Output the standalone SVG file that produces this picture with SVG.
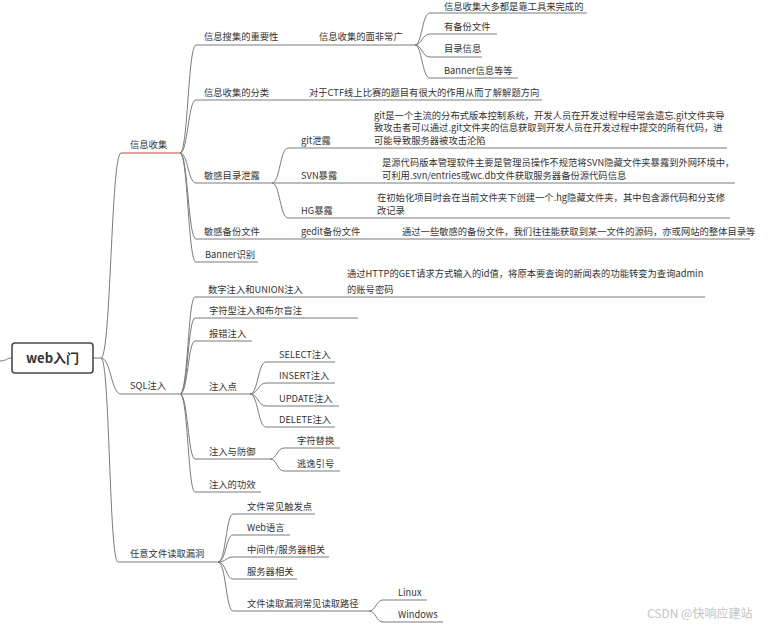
<svg xmlns="http://www.w3.org/2000/svg" width="781" height="629" viewBox="0 0 781 629">
<style>
  text { font-family: "Noto Sans CJK SC", "Noto Sans", sans-serif; font-size: 9.3px; fill: #333; }
  .ul { stroke: #7a7a7a; stroke-width: 1; fill: none; }
  .cn { stroke: #7a7a7a; stroke-width: 1; fill: none; }
  .red { stroke: #d9402e; stroke-width: 1.2; }
  .root { fill: #ffffff; stroke: #4a4a4a; stroke-width: 1.6; }
  .rt { font-size: 13px; font-weight: bold; fill: #333; }
  .wm { font-size: 12px; fill: #c4c4c4; }
</style>
<rect width="781" height="629" fill="#ffffff"/>

<g id="connectors">
  <path class="cn" d="M0,361 C6,361 7,358 12,358" stroke-width="1.5"/>
  <path class="cn" d="M93,358 L101,358"/>
  <path class="cn" d="M101,358 C111,358 111,153 121,153"/>
  <path class="cn" d="M101,358 C111,358 111,394 121,394"/>
  <path class="cn" d="M101,358 C110,358 109,562 118,562"/>
  <!-- 信息收集 children -->
  <path class="cn" d="M180,153 C188,153 188,45 196,45"/>
  <path class="cn" d="M180,153 C188,153 188,100 196,100"/>
  <path class="cn" d="M180,153 C188,153 188,183 196,183"/>
  <path class="cn" d="M180,153 C188,153 188,239 196,239"/>
  <path class="cn" d="M180,153 C188,153 188,262 196,262"/>
  <!-- 信息收集的面非常广 children -->
  <path class="cn" d="M415,45 C422,45 422,13 430,13"/>
  <path class="cn" d="M415,45 C422,45 422,34 430,34"/>
  <path class="cn" d="M415,45 C422,45 422,57 430,57"/>
  <path class="cn" d="M415,45 C422,45 422,78 430,78"/>
  <!-- 敏感目录泄露 children -->
  <path class="cn" d="M272,183 C280,183 280,148 288,148"/>
  <path class="cn" d="M272,183 L288,183"/>
  <path class="cn" d="M272,183 C280,183 280,218 288,218"/>
  <!-- SQL注入 children -->
  <path class="cn" d="M180,394 C188,394 188,297 195,297"/>
  <path class="cn" d="M180,394 C188,394 188,318 195,318"/>
  <path class="cn" d="M180,394 C188,394 188,341 195,341"/>
  <path class="cn" d="M180,394 L195,394"/>
  <path class="cn" d="M180,394 C188,394 188,459 195,459"/>
  <path class="cn" d="M180,394 C188,394 188,492 195,492"/>
  <!-- 注入点 children -->
  <path class="cn" d="M250,394 C258,394 258,362 266,362"/>
  <path class="cn" d="M250,394 C258,394 258,383 266,383"/>
  <path class="cn" d="M250,394 C258,394 258,406 266,406"/>
  <path class="cn" d="M250,394 C258,394 258,427 266,427"/>
  <!-- 注入与防御 children -->
  <path class="cn" d="M270,459 C277,459 277,448 284,448"/>
  <path class="cn" d="M270,459 C277,459 277,471 284,471"/>
  <!-- 任意文件读取漏洞 children -->
  <path class="cn" d="M218,562 C226,562 226,514 233,514"/>
  <path class="cn" d="M218,562 C226,562 226,535 233,535"/>
  <path class="cn" d="M218,562 C226,562 226,557 233,557"/>
  <path class="cn" d="M218,562 C226,562 226,579 233,579"/>
  <path class="cn" d="M218,562 C226,562 226,611 233,611"/>
  <!-- 文件读取漏洞常见读取路径 children -->
  <path class="cn" d="M369,611 C376,611 376,600 383,600"/>
  <path class="cn" d="M369,611 C376,611 376,622 383,622"/>
</g>

<g id="root">
  <rect class="root" x="12" y="343" width="81" height="30" rx="3"/>
  <text class="rt" x="52.5" y="362.5" text-anchor="middle">web入门</text>
</g>

<g id="n-xxsj"><line class="ul red" x1="121" y1="153" x2="180" y2="153"/><text x="130" y="148">信息收集</text></g>
<g id="n-sql"><line class="ul" x1="121" y1="394" x2="180" y2="394"/><text x="130" y="389">SQL注入</text></g>
<g id="n-rywj"><line class="ul" x1="118" y1="562" x2="218" y2="562"/><text x="130" y="557">任意文件读取漏洞</text></g>

<g id="n-zyx"><line class="ul" x1="196" y1="45" x2="310" y2="45"/><text x="204" y="40">信息搜集的重要性</text></g>
<g id="n-mfcg"><line class="ul" x1="310" y1="45" x2="415" y2="45"/><text x="319" y="40">信息收集的面非常广</text></g>
<g id="n-gj"><line class="ul" x1="430" y1="13" x2="587" y2="13"/><text x="444" y="9.5">信息收集大多都是靠工具来完成的</text></g>
<g id="n-bf"><line class="ul" x1="430" y1="34" x2="497" y2="34"/><text x="444" y="29.5">有备份文件</text></g>
<g id="n-ml"><line class="ul" x1="430" y1="57" x2="482" y2="57"/><text x="444" y="52">目录信息</text></g>
<g id="n-bn"><line class="ul" x1="430" y1="78" x2="518" y2="78"/><text x="444" y="73.5">Banner信息等等</text></g>

<g id="n-fl"><line class="ul" x1="196" y1="100" x2="300" y2="100"/><text x="204" y="95.5">信息收集的分类</text></g>
<g id="n-ctf"><line class="ul" x1="300" y1="100" x2="542" y2="100"/><text x="309" y="95.5">对于CTF线上比赛的题目有很大的作用从而了解解题方向</text></g>

<g id="n-mgml"><line class="ul" x1="196" y1="183" x2="272" y2="183"/><text x="204" y="178.5">敏感目录泄露</text></g>
<g id="n-git"><line class="ul" x1="288" y1="148" x2="366" y2="148"/><text x="301" y="143.5">git泄露</text></g>
<g id="n-gitd"><line class="ul" x1="366" y1="148" x2="727" y2="148"/>
  <text x="374" y="118.5">git是一个主流的分布式版本控制系统，开发人员在开发过程中经常会遗忘.git文件夹导</text>
  <text x="374" y="131">致攻击者可以通过.git文件夹的信息获取到开发人员在开发过程中提交的所有代码，进</text>
  <text x="374" y="143.5">可能导致服务器被攻击沦陷</text></g>
<g id="n-svn"><line class="ul" x1="288" y1="183" x2="376" y2="183"/><text x="301" y="178.5">SVN暴露</text></g>
<g id="n-svnd"><line class="ul" x1="376" y1="183" x2="735" y2="183"/>
  <text x="382" y="165.5">是源代码版本管理软件主要是管理员操作不规范将SVN隐藏文件夹暴露到外网环境中，</text>
  <text x="382" y="178.5">可利用.svn/entries或wc.db文件获取服务器备份源代码信息</text></g>
<g id="n-hg"><line class="ul" x1="288" y1="218" x2="370" y2="218"/><text x="301" y="213.5">HG暴露</text></g>
<g id="n-hgd"><line class="ul" x1="370" y1="218" x2="730" y2="218"/>
  <text x="377" y="200.5">在初始化项目时会在当前文件夹下创建一个.hg隐藏文件夹，其中包含源代码和分支修</text>
  <text x="377" y="213.5">改记录</text></g>

<g id="n-mgbf"><line class="ul" x1="196" y1="239" x2="292" y2="239"/><text x="204" y="234.5">敏感备份文件</text></g>
<g id="n-gedit"><line class="ul" x1="292" y1="239" x2="394" y2="239"/><text x="301" y="234.5">gedit备份文件</text></g>
<g id="n-geditd"><line class="ul" x1="394" y1="239" x2="750" y2="239"/><text x="402" y="234.5">通过一些敏感的备份文件，我们往往能获取到某一文件的源码，亦或网站的整体目录等</text></g>
<g id="n-bsb"><line class="ul" x1="196" y1="262" x2="258" y2="262"/><text x="205" y="257.5">Banner识别</text></g>

<g id="n-sz"><line class="ul" x1="195" y1="297" x2="340" y2="297"/><text x="208" y="292.5">数字注入和UNION注入</text></g>
<g id="n-szd"><line class="ul" x1="340" y1="297" x2="705" y2="297"/>
  <text x="347" y="277">通过HTTP的GET请求方式输入的id值，将原本要查询的新闻表的功能转变为查询admin</text>
  <text x="347" y="292.5">的账号密码</text></g>
<g id="n-zf"><line class="ul" x1="195" y1="318" x2="358" y2="318"/><text x="209" y="313.5">字符型注入和布尔盲注</text></g>
<g id="n-bc"><line class="ul" x1="195" y1="341" x2="252" y2="341"/><text x="209" y="336.5">报错注入</text></g>
<g id="n-zrd"><line class="ul" x1="195" y1="394" x2="250" y2="394"/><text x="209" y="389.5">注入点</text></g>
<g id="n-sel"><line class="ul" x1="266" y1="362" x2="335" y2="362"/><text x="279" y="357.5">SELECT注入</text></g>
<g id="n-ins"><line class="ul" x1="266" y1="383" x2="335" y2="383"/><text x="279" y="378.5">INSERT注入</text></g>
<g id="n-upd"><line class="ul" x1="266" y1="406" x2="339" y2="406"/><text x="279" y="401.5">UPDATE注入</text></g>
<g id="n-del"><line class="ul" x1="266" y1="427" x2="335" y2="427"/><text x="279" y="422.5">DELETE注入</text></g>
<g id="n-fy"><line class="ul" x1="195" y1="459" x2="270" y2="459"/><text x="209" y="454.5">注入与防御</text></g>
<g id="n-th"><line class="ul" x1="284" y1="448" x2="340" y2="448"/><text x="297" y="443.5">字符替换</text></g>
<g id="n-ty"><line class="ul" x1="284" y1="471" x2="340" y2="471"/><text x="297" y="466.5">逃逸引号</text></g>
<g id="n-gx"><line class="ul" x1="195" y1="492" x2="261" y2="492"/><text x="209" y="487.5">注入的功效</text></g>

<g id="n-cf"><line class="ul" x1="233" y1="514" x2="315" y2="514"/><text x="247" y="509.5">文件常见触发点</text></g>
<g id="n-web"><line class="ul" x1="233" y1="535" x2="290" y2="535"/><text x="247" y="530.5">Web语言</text></g>
<g id="n-zjj"><line class="ul" x1="233" y1="557" x2="329" y2="557"/><text x="247" y="552.5">中间件/服务器相关</text></g>
<g id="n-fwq"><line class="ul" x1="233" y1="579" x2="297" y2="579"/><text x="247" y="574.5">服务器相关</text></g>
<g id="n-lj"><line class="ul" x1="233" y1="611" x2="369" y2="611"/><text x="247" y="606.5">文件读取漏洞常见读取路径</text></g>
<g id="n-linux"><line class="ul" x1="383" y1="600" x2="427" y2="600"/><text x="398" y="595.5">Linux</text></g>
<g id="n-win"><line class="ul" x1="383" y1="622" x2="443" y2="622"/><text x="398" y="617.5">Windows</text></g>

<text class="wm" x="647" y="618">CSDN @快响应建站</text>
</svg>
